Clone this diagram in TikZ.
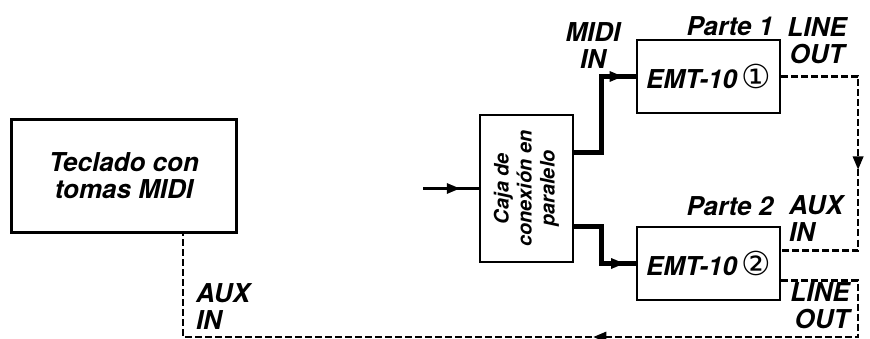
\documentclass[tikz,border=0pt]{standalone}
\usepackage{fontspec}
\setmainfont{TeX Gyre Heros}
\newfontfamily\symfont{DejaVu Sans}
\usetikzlibrary{decorations.markings}

\tikzset{
  box/.style={draw, line width=2.2pt, inner sep=0pt},
  lbl/.style={font=\fontsize{26}{27}\selectfont\bfseries\itshape, inner sep=0pt},
  midi/.style={line width=5pt},
  audio/.style={line width=2.2pt, dash pattern=on 7pt off 3pt},
  mid arrow/.style={postaction={decorate}, decoration={markings,
      mark=at position #1 with {\fill (-7pt,-5.5pt) -- (6pt,0pt) -- (-7pt,5.5pt) -- cycle;}}},
}
\newcommand{\circnum}[1]{{\symfont\mdseries\upshape\fontsize{33}{27}\selectfont #1}}

\begin{document}
\begin{tikzpicture}[x=1pt, y=-1pt]
\useasboundingbox (0,0) rectangle (870,339);

% boxes
\node[box, lbl, align=center, minimum width=225pt, minimum height=113pt] (kbd) at (124,176) {Teclado con\\tomas MIDI};
\node[box, minimum width=93pt, minimum height=147pt] (par) at (526.5,188.5) {};
\node[rotate=90, align=center, inner sep=0pt, font=\fontsize{20}{23}\selectfont\bfseries\itshape] at (par) {Caja de\\conexión en\\paralelo};
\node[box, lbl, minimum width=143pt, minimum height=73pt] (emt1) at (708.5,76.5) {EMT-10\,\circnum{①}};
\node[box, lbl, minimum width=143pt, minimum height=73pt] (emt2) at (708.5,263.5) {EMT-10\,\circnum{②}};

% labels
\node[lbl, align=center] (midiin) at (593,46) {MIDI\\IN};
\node[lbl] (part1) at (730,26) {Parte 1};
\node[lbl, align=center] (lineout1) at (817,41) {LINE\\OUT};
\node[lbl] (part2) at (730,206) {Parte 2};
\node[lbl, align=left] (auxin2) at (816,219) {AUX\\IN};
\node[lbl, align=right] (lineout2) at (820,306) {LINE\\OUT};
\node[lbl, align=left] (auxin1) at (223,307) {AUX\\IN};

% midi
\coordinate (src) at (423,188.5);
\draw[line width=2.5pt, mid arrow=0.55] (src) -- (par.west);
\draw[midi, mid arrow=0.86] ([yshift=36pt]par.east) -- ++(27,0) |- (emt1.west);
\draw[midi, mid arrow=0.82] ([yshift=-38pt]par.east) -- ++(27,0) |- (emt2.west);

% audio
\coordinate (ret) at (183,337);
\draw[audio, mid arrow=0.5] (emt1.east) -- ++(77,0) |- ([yshift=13pt]emt2.east);
\draw[audio, mid arrow=0.43] ([yshift=-17pt]emt2.east) -- ++(77,0) |- (ret) -- (ret |- kbd.south);

\end{tikzpicture}
\end{document}
